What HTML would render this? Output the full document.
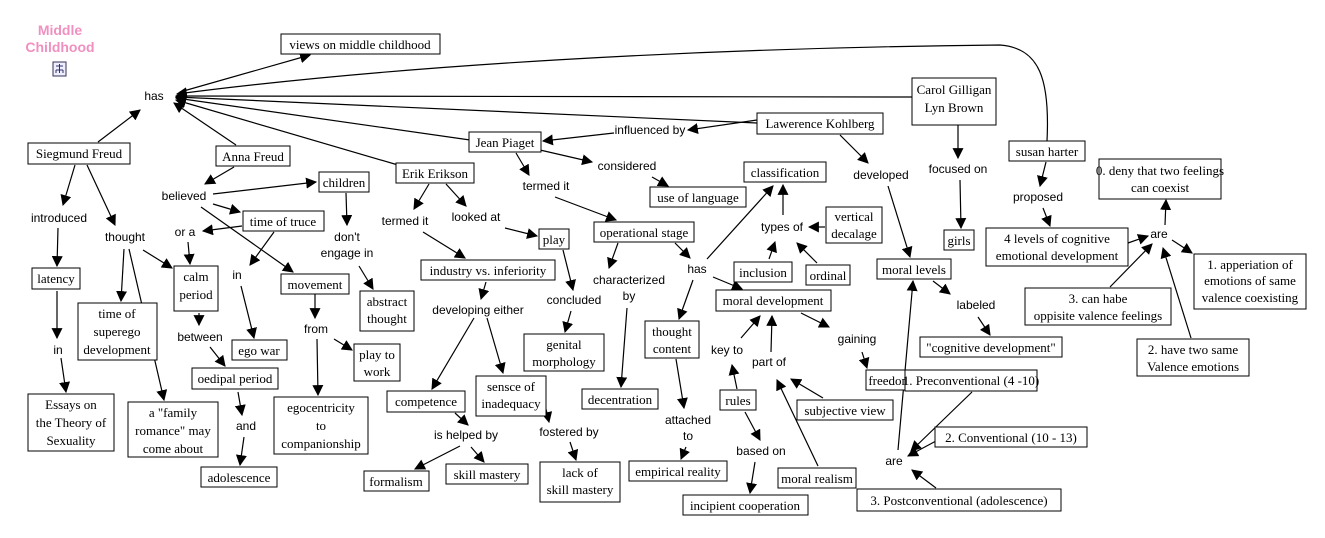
<!DOCTYPE html>
<html><head><meta charset="utf-8"><style>
html,body{margin:0;padding:0;background:#fff;width:1325px;height:538px;overflow:hidden}
svg text{font-family:"Liberation Serif",serif;font-size:13px;fill:#000}
svg text.l{font-family:"Liberation Sans",sans-serif;font-size:12px}
svg rect{fill:#fff;stroke:#000;stroke-width:1}
svg line,svg path{stroke:#000;stroke-width:1.2;fill:none}
</style></head><body>
<svg width="1325" height="538" viewBox="0 0 1325 538" xmlns="http://www.w3.org/2000/svg">
<defs><marker id="a" viewBox="0 0 10 10" refX="9" refY="5" markerWidth="11" markerHeight="11" markerUnits="userSpaceOnUse" orient="auto"><path d="M0,0L10,5L0,10z" style="fill:#000;stroke:none"/></marker></defs>
<g marker-end="url(#a)">
<line x1="180" y1="92" x2="310" y2="55"/>
<line x1="98" y1="142" x2="140" y2="110"/>
<line x1="236" y1="145" x2="174" y2="103"/>
<line x1="398" y1="165" x2="176" y2="100"/>
<line x1="470" y1="140" x2="176" y2="98"/>
<line x1="757" y1="123" x2="176" y2="97"/>
<line x1="912" y1="97" x2="176" y2="96"/>
<path d="M1047,141 C1050,80 1040,48 1000,45 C700,48 400,65 177,94"/>
<line x1="75" y1="165" x2="63" y2="205"/>
<line x1="87" y1="165" x2="115" y2="225"/>
<line x1="58" y1="228" x2="57" y2="266"/>
<line x1="57" y1="291" x2="57" y2="338"/>
<line x1="61" y1="358" x2="66" y2="392"/>
<line x1="124" y1="249" x2="121" y2="301"/>
<line x1="129" y1="249" x2="164" y2="400"/>
<line x1="143" y1="250" x2="172" y2="268"/>
<line x1="234" y1="167" x2="205" y2="184"/>
<line x1="213" y1="194" x2="316" y2="182"/>
<line x1="213" y1="204" x2="240" y2="212"/>
<line x1="201" y1="207" x2="293" y2="272"/>
<line x1="242" y1="226" x2="203" y2="231"/>
<line x1="188" y1="242" x2="190" y2="264"/>
<line x1="274" y1="232" x2="250" y2="265"/>
<line x1="241" y1="286" x2="254" y2="338"/>
<line x1="199" y1="313" x2="199" y2="325"/>
<line x1="210" y1="347" x2="225" y2="366"/>
<line x1="238" y1="392" x2="242" y2="415"/>
<line x1="244" y1="437" x2="240" y2="465"/>
<line x1="346" y1="193" x2="347" y2="225"/>
<line x1="359" y1="266" x2="373" y2="289"/>
<line x1="315" y1="294" x2="315" y2="318"/>
<line x1="334" y1="339" x2="352" y2="350"/>
<line x1="317" y1="339" x2="318" y2="395"/>
<line x1="429" y1="184" x2="414" y2="209"/>
<line x1="446" y1="184" x2="466" y2="206"/>
<line x1="423" y1="232" x2="465" y2="258"/>
<line x1="505" y1="228" x2="537" y2="236"/>
<line x1="486" y1="282" x2="481" y2="299"/>
<line x1="474" y1="318" x2="432" y2="389"/>
<line x1="487" y1="318" x2="503" y2="373"/>
<line x1="455" y1="413" x2="468" y2="425"/>
<line x1="460" y1="446" x2="415" y2="469"/>
<line x1="471" y1="447" x2="484" y2="462"/>
<line x1="545" y1="405" x2="549" y2="422"/>
<line x1="570" y1="442" x2="576" y2="460"/>
<line x1="563" y1="250" x2="573" y2="290"/>
<line x1="571" y1="311" x2="565" y2="332"/>
<line x1="516" y1="153" x2="529" y2="175"/>
<line x1="540" y1="150" x2="592" y2="162"/>
<line x1="652" y1="177" x2="668" y2="186"/>
<line x1="555" y1="197" x2="616" y2="220"/>
<line x1="618" y1="243" x2="609" y2="268"/>
<line x1="627" y1="308" x2="621" y2="387"/>
<line x1="675" y1="243" x2="690" y2="258"/>
<line x1="693" y1="280" x2="679" y2="319"/>
<line x1="676" y1="359" x2="684" y2="408"/>
<line x1="686" y1="447" x2="681" y2="459"/>
<line x1="757" y1="120" x2="688" y2="130"/>
<line x1="614" y1="133" x2="543" y2="141"/>
<line x1="707" y1="259" x2="773" y2="186"/>
<line x1="713" y1="277" x2="742" y2="289"/>
<line x1="783" y1="215" x2="783" y2="185"/>
<line x1="769" y1="259" x2="775" y2="242"/>
<line x1="817" y1="263" x2="797" y2="243"/>
<line x1="825" y1="227" x2="809" y2="227"/>
<line x1="741" y1="338" x2="760" y2="316"/>
<line x1="737" y1="389" x2="732" y2="365"/>
<line x1="771" y1="352" x2="772" y2="316"/>
<line x1="823" y1="398" x2="791" y2="379"/>
<line x1="818" y1="466" x2="777" y2="380"/>
<line x1="745" y1="412" x2="760" y2="440"/>
<line x1="755" y1="462" x2="750" y2="493"/>
<line x1="801" y1="313" x2="829" y2="327"/>
<line x1="862" y1="352" x2="867" y2="368"/>
<line x1="840" y1="135" x2="868" y2="163"/>
<line x1="888" y1="186" x2="910" y2="257"/>
<line x1="933" y1="281" x2="950" y2="294"/>
<line x1="978" y1="317" x2="990" y2="335"/>
<line x1="958" y1="125" x2="958" y2="158"/>
<line x1="960" y1="180" x2="961" y2="228"/>
<line x1="972" y1="392" x2="911" y2="451"/>
<line x1="936" y1="441" x2="908" y2="456"/>
<line x1="936" y1="488" x2="912" y2="470"/>
<line x1="898" y1="450" x2="913" y2="281"/>
<line x1="1046" y1="162" x2="1040" y2="186"/>
<line x1="1043" y1="208" x2="1050" y2="226"/>
<line x1="1128" y1="243" x2="1148" y2="236"/>
<line x1="1165" y1="225" x2="1166" y2="200"/>
<line x1="1172" y1="240" x2="1192" y2="253"/>
<line x1="1110" y1="287" x2="1152" y2="244"/>
<line x1="1191" y1="338" x2="1163" y2="248"/>
</g>

<text x="60" y="35" text-anchor="middle" style="font-family:'Liberation Sans',sans-serif;font-size:14px;font-weight:bold;fill:#f090c0">Middle</text>
<text x="60" y="52" text-anchor="middle" style="font-family:'Liberation Sans',sans-serif;font-size:14px;font-weight:bold;fill:#f090c0">Childhood</text>
<rect x="53" y="62" width="13" height="14" style="fill:#eef;stroke:#335"/>
<path d="M56,66h7M59.5,64v9M56,70h7M56,70v3M63,70v3" style="stroke:#336;stroke-width:1"/>

<g text-anchor="middle">
<!-- boxes -->
<rect x="281" y="34" width="159" height="20"/><text x="360" y="49">views on middle childhood</text>
<rect x="28" y="143" width="102" height="21"/><text x="79" y="158">Siegmund Freud</text>
<rect x="216" y="146" width="74" height="20"/><text x="253" y="161">Anna Freud</text>
<rect x="319" y="172" width="50" height="20"/><text x="344" y="187">children</text>
<rect x="243" y="211" width="81" height="20"/><text x="283" y="226">time of truce</text>
<rect x="174" y="266" width="44" height="45"/><text x="196" y="281">calm</text><text x="196" y="299">period</text>
<rect x="281" y="274" width="68" height="20"/><text x="315" y="289">movement</text>
<rect x="360" y="291" width="54" height="40"/><text x="387" y="306">abstract</text><text x="387" y="323">thought</text>
<rect x="32" y="268" width="48" height="21"/><text x="56" y="283">latency</text>
<rect x="78" y="303" width="79" height="57"/><text x="117" y="318">time of</text><text x="117" y="336">superego</text><text x="117" y="354">development</text>
<rect x="232" y="340" width="55" height="20"/><text x="259" y="355">ego war</text>
<rect x="354" y="344" width="46" height="37"/><text x="377" y="359">play to</text><text x="377" y="376">work</text>
<rect x="192" y="368" width="86" height="21"/><text x="235" y="383">oedipal period</text>
<rect x="274" y="397" width="94" height="57"/><text x="321" y="412">egocentricity</text><text x="321" y="430">to</text><text x="321" y="448">companionship</text>
<rect x="28" y="394" width="86" height="57"/><text x="71" y="409">Essays on</text><text x="71" y="427">the Theory of</text><text x="71" y="445">Sexuality</text>
<rect x="128" y="402" width="90" height="55"/><text x="173" y="417">a "family</text><text x="173" y="435">romance" may</text><text x="173" y="453">come about</text>
<rect x="201" y="467" width="76" height="20"/><text x="239" y="482">adolescence</text>
<rect x="396" y="163" width="78" height="20"/><text x="435" y="178">Erik Erikson</text>
<rect x="469" y="132" width="72" height="20"/><text x="505" y="147">Jean Piaget</text>
<rect x="421" y="260" width="134" height="20"/><text x="488" y="275">industry vs. inferiority</text>
<rect x="539" y="229" width="30" height="20"/><text x="554" y="244">play</text>
<rect x="387" y="391" width="78" height="21"/><text x="426" y="406">competence</text>
<rect x="476" y="376" width="70" height="40"/><text x="511" y="391">sensce of</text><text x="511" y="408">inadequacy</text>
<rect x="364" y="471" width="65" height="20"/><text x="396" y="486">formalism</text>
<rect x="446" y="464" width="82" height="20"/><text x="487" y="479">skill mastery</text>
<rect x="540" y="462" width="80" height="40"/><text x="580" y="477">lack of</text><text x="580" y="494">skill mastery</text>
<rect x="524" y="334" width="80" height="37"/><text x="564" y="349">genital</text><text x="564" y="366">morphology</text>
<rect x="594" y="222" width="100" height="20"/><text x="644" y="237">operational stage</text>
<rect x="650" y="187" width="96" height="20"/><text x="698" y="202">use of language</text>
<rect x="645" y="321" width="54" height="37"/><text x="672" y="336">thought</text><text x="672" y="353">content</text>
<rect x="582" y="389" width="76" height="20"/><text x="620" y="404">decentration</text>
<rect x="629" y="461" width="98" height="20"/><text x="678" y="476">empirical reality</text>
<rect x="757" y="113" width="126" height="21"/><text x="820" y="128">Lawerence Kohlberg</text>
<rect x="912" y="78" width="84" height="47"/><text x="954" y="94">Carol Gilligan</text><text x="954" y="112">Lyn Brown</text>
<rect x="744" y="162" width="82" height="20"/><text x="785" y="177">classification</text>
<rect x="826" y="207" width="56" height="36"/><text x="854" y="221">vertical</text><text x="854" y="238">decalage</text>
<rect x="734" y="262" width="58" height="20"/><text x="763" y="277">inclusion</text>
<rect x="806" y="265" width="44" height="20"/><text x="828" y="280">ordinal</text>
<rect x="716" y="290" width="115" height="21"/><text x="773" y="305">moral development</text>
<rect x="866" y="370" width="48" height="20"/><text x="890" y="385">freedom</text>
<rect x="797" y="400" width="96" height="20"/><text x="845" y="415">subjective view</text>
<rect x="720" y="390" width="36" height="20"/><text x="738" y="405">rules</text>
<rect x="778" y="468" width="78" height="20"/><text x="817" y="483">moral realism</text>
<rect x="683" y="495" width="125" height="20"/><text x="745" y="510">incipient cooperation</text>
<rect x="944" y="230" width="30" height="20"/><text x="959" y="245">girls</text>
<rect x="877" y="259" width="74" height="20"/><text x="914" y="274">moral levels</text>
<rect x="920" y="337" width="142" height="20"/><text x="991" y="352">"cognitive development"</text>
<rect x="905" y="370" width="132" height="21"/><text x="971" y="385">1. Preconventional (4 -10)</text>
<rect x="935" y="427" width="152" height="20"/><text x="1011" y="442">2. Conventional (10 - 13)</text>
<rect x="857" y="489" width="204" height="22"/><text x="959" y="505">3. Postconventional (adolescence)</text>
<rect x="1009" y="141" width="76" height="20"/><text x="1047" y="156">susan harter</text>
<rect x="1099" y="159" width="122" height="40"/><text x="1160" y="175">0. deny that two feelings</text><text x="1160" y="192">can coexist</text>
<rect x="986" y="228" width="142" height="38"/><text x="1057" y="243">4 levels of cognitive</text><text x="1057" y="260">emotional development</text>
<rect x="1194" y="254" width="112" height="55"/><text x="1250" y="269">1. apperiation of</text><text x="1250" y="285">emotions of same</text><text x="1250" y="302">valence coexisting</text>
<rect x="1025" y="288" width="146" height="37"/><text x="1098" y="303">3. can habe</text><text x="1098" y="320">oppisite valence feelings</text>
<rect x="1137" y="339" width="112" height="37"/><text x="1193" y="354">2. have two same</text><text x="1193" y="371">Valence emotions</text>

<!-- labels -->
<text class="l" x="154" y="100">has</text>
<text class="l" x="59" y="222">introduced</text>
<text class="l" x="125" y="241">thought</text>
<text class="l" x="58" y="354">in</text>
<text class="l" x="184" y="200">believed</text>
<text class="l" x="185" y="236">or a</text>
<text class="l" x="237" y="279">in</text>
<text class="l" x="200" y="341">between</text>
<text class="l" x="246" y="430">and</text>
<text class="l" x="316" y="333">from</text>
<text class="l" x="347" y="241">don't</text><text class="l" x="347" y="257">engage in</text>
<text class="l" x="405" y="225">termed it</text>
<text class="l" x="476" y="221">looked at</text>
<text class="l" x="478" y="314">developing either</text>
<text class="l" x="466" y="439">is helped by</text>
<text class="l" x="569" y="436">fostered by</text>
<text class="l" x="574" y="304">concluded</text>
<text class="l" x="546" y="190">termed it</text>
<text class="l" x="627" y="170">considered</text>
<text class="l" x="650" y="134">influenced by</text>
<text class="l" x="629" y="284">characterized</text><text class="l" x="629" y="300">by</text>
<text class="l" x="697" y="273">has</text>
<text class="l" x="688" y="424">attached</text><text class="l" x="688" y="440">to</text>
<text class="l" x="782" y="231">types of</text>
<text class="l" x="727" y="354">key to</text>
<text class="l" x="769" y="366">part of</text>
<text class="l" x="857" y="343">gaining</text>
<text class="l" x="761" y="455">based on</text>
<text class="l" x="881" y="179">developed</text>
<text class="l" x="958" y="173">focused on</text>
<text class="l" x="976" y="309">labeled</text>
<text class="l" x="894" y="465">are</text>
<text class="l" x="1038" y="201">proposed</text>
<text class="l" x="1159" y="238">are</text>
</g>
</svg>
</body></html>
